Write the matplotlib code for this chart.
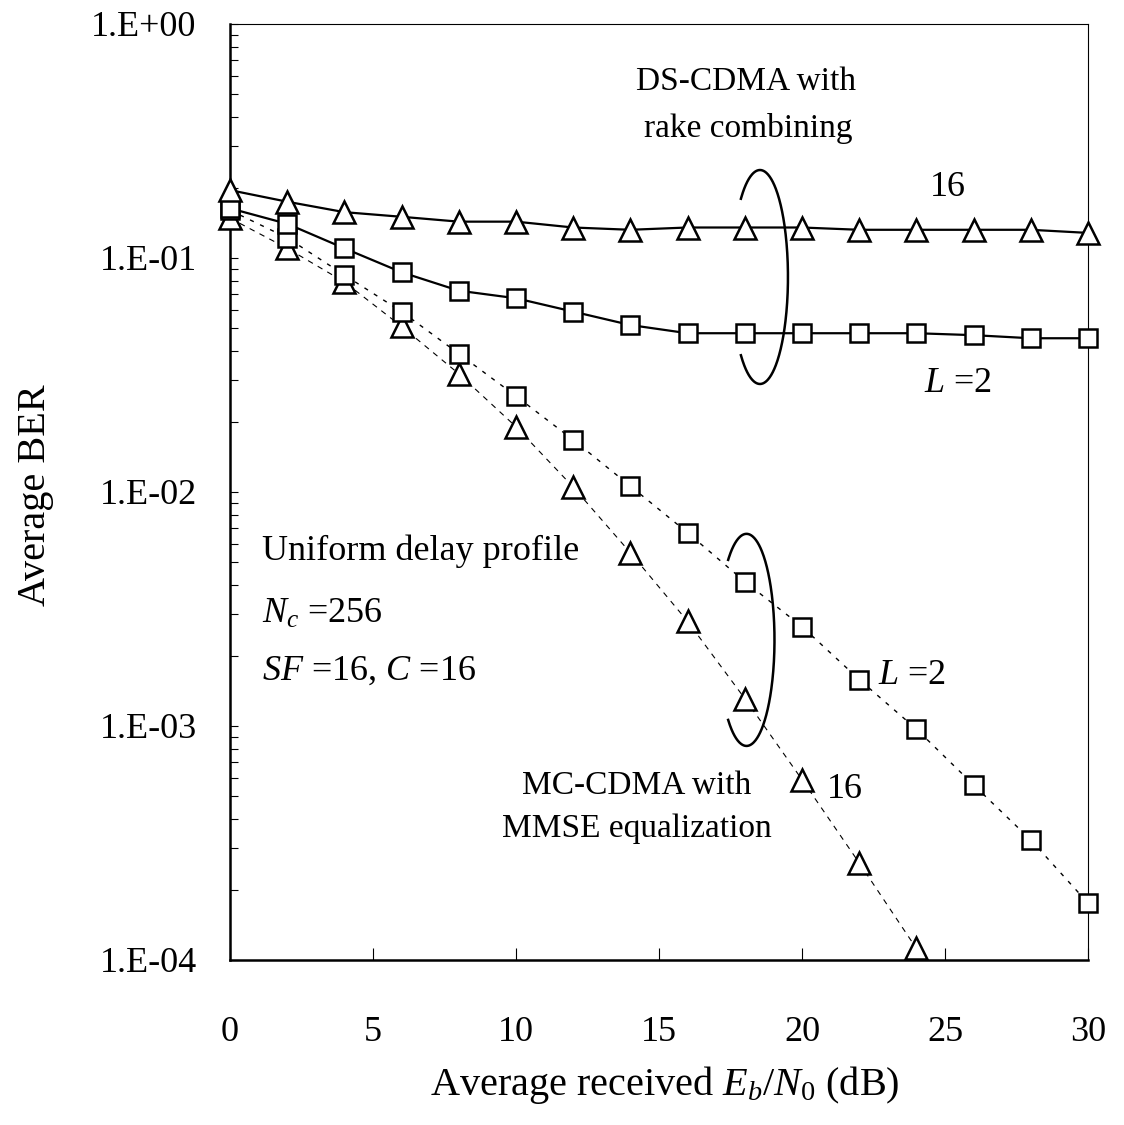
import numpy as np
import matplotlib
matplotlib.use("Agg")
import matplotlib.pyplot as plt

plt.rcParams['font.family'] = ['Liberation Serif', 'DejaVu Serif']
plt.rcParams['mathtext.fontset'] = 'custom'
plt.rcParams['mathtext.rm'] = 'Liberation Serif'
plt.rcParams['mathtext.it'] = 'Liberation Serif:italic'

# ---- data ----
snr_db = [0, 2, 4, 6, 8, 10, 12, 14, 16, 18, 20, 22, 24, 26, 28, 30]
ds_L16 = [0.195, 0.174, 0.157, 0.150, 0.143, 0.143, 0.135, 0.132, 0.135, 0.135,
          0.135, 0.132, 0.132, 0.132, 0.132, 0.128]
ds_L2 = [0.163, 0.140, 0.110, 0.0869, 0.0725, 0.0673, 0.0590, 0.0517, 0.0477, 0.0477,
         0.0477, 0.0477, 0.0477, 0.0468, 0.0454, 0.0454]
mc_L2 = [0.160, 0.122, 0.0846, 0.059, 0.039, 0.0257, 0.0167, 0.0106, 0.0067, 0.00414,
         0.00266, 0.00158, 0.00097, 0.00056, 0.000326, 0.000175]
snr_mc16 = [0, 2, 4, 6, 8, 10, 12, 14, 16, 18, 20, 22, 24]
mc_L16 = [0.148, 0.110, 0.079, 0.051, 0.032, 0.019, 0.0105, 0.0055, 0.0028, 0.00131,
          0.00059, 0.00026, 0.000112]

x_ticks = [0, 5, 10, 15, 20, 25, 30]
y_ticks = [1e-4, 1e-3, 1e-2, 1e-1, 1e0]
y_tick_labels = ["1.E-04", "1.E-03", "1.E-02", "1.E-01", "1.E+00"]

W, H = 1124, 1125
fig = plt.figure(figsize=(W / 100, H / 100), dpi=100)
ax = fig.add_axes([230 / W, 1 - 960 / H, 858 / W, 936 / H])

FS = 26
FSA = 24
tri = dict(marker='^', ms=16, mfc='white', mec='black', mew=1.8, clip_on=False)
sq = dict(marker='s', ms=13, mfc='white', mec='black', mew=1.8, clip_on=False)

ax.plot(snr_mc16, mc_L16, color='black', lw=0.8, ls=(0, (5, 5)), **tri, zorder=3)
ax.plot(snr_db, mc_L2, color='black', lw=1.0, ls=(0, (3, 5)), **sq, zorder=3)
ax.plot(snr_db, ds_L2, color='black', lw=1.6, ls='-', **sq, zorder=4)
ax.plot(snr_db, ds_L16, color='black', lw=1.6, ls='-', **tri, zorder=4)

ax.set_yscale('log')
ax.set_xlim(0, 30)
ax.set_ylim(1e-4, 1e0)
ax.set_xticks(x_ticks)
ax.set_xticklabels([str(v) for v in x_ticks], fontsize=FS)
ax.set_yticks(y_ticks)
ax.set_yticklabels(y_tick_labels, fontsize=FS)
ax.tick_params(axis='x', which='major', direction='in', length=8.5, width=0.8, pad=40)
ax.tick_params(axis='y', which='major', direction='in', length=6, width=0.8, pad=24)
ax.tick_params(axis='y', which='minor', direction='in', length=6, width=0.8)
ax.tick_params(axis='x', which='minor', bottom=False)
ax.spines['left'].set_linewidth(1.8)
ax.spines['bottom'].set_linewidth(1.8)
ax.spines['right'].set_linewidth(0.8)
ax.spines['top'].set_linewidth(0.8)


def open_ellipse(cx, cy, rx, ry, gap_deg):
    t = np.radians(np.linspace(-180 + gap_deg, 180 - gap_deg, 300))
    ax.plot(cx + rx * np.cos(t), cy + ry * np.sin(t), color='black', lw=1.8,
            transform=ax.transAxes, zorder=5)


open_ellipse(0.6177, 0.7297, 0.0326, 0.1143, 47)
open_ellipse(0.602, 0.342, 0.0326, 0.1133, 49)


def t(px, py, s, fs=FS, **kw):
    ax.text((px - 230) / 858, (960 - py) / 936, s, transform=ax.transAxes,
            fontsize=fs, **kw)


t(746, 82, "DS-CDMA with", fs=FSA, ha='center', va='center')
t(748, 128, "rake combining", fs=FSA, ha='center', va='center')
t(948, 187, "16", ha='center', va='center')
t(924, 383, "$L$ =2", ha='left', va='center')
t(262, 551, "Uniform delay profile", ha='left', va='center')
t(262, 614, "$N_c$ =256", ha='left', va='center')
t(262, 671, "$SF$ =16, $C$ =16", ha='left', va='center')
t(637, 786, "MC-CDMA with", fs=FSA, ha='center', va='center')
t(637, 829, "MMSE equalization", fs=FSA, ha='center', va='center')
t(845, 790, "16", ha='center', va='center')
t(878, 675, "$L$ =2", ha='left', va='center')

fig.text(665 / W, 1 - 1085 / H, "Average received $E_b$/$N_0$ (dB)", fontsize=29,
         ha='center', va='center')
fig.text(36 / W, 1 - 495 / H, "Average BER", fontsize=29, rotation=90,
         ha='center', va='center')

fig.savefig("out.png", dpi=100)
